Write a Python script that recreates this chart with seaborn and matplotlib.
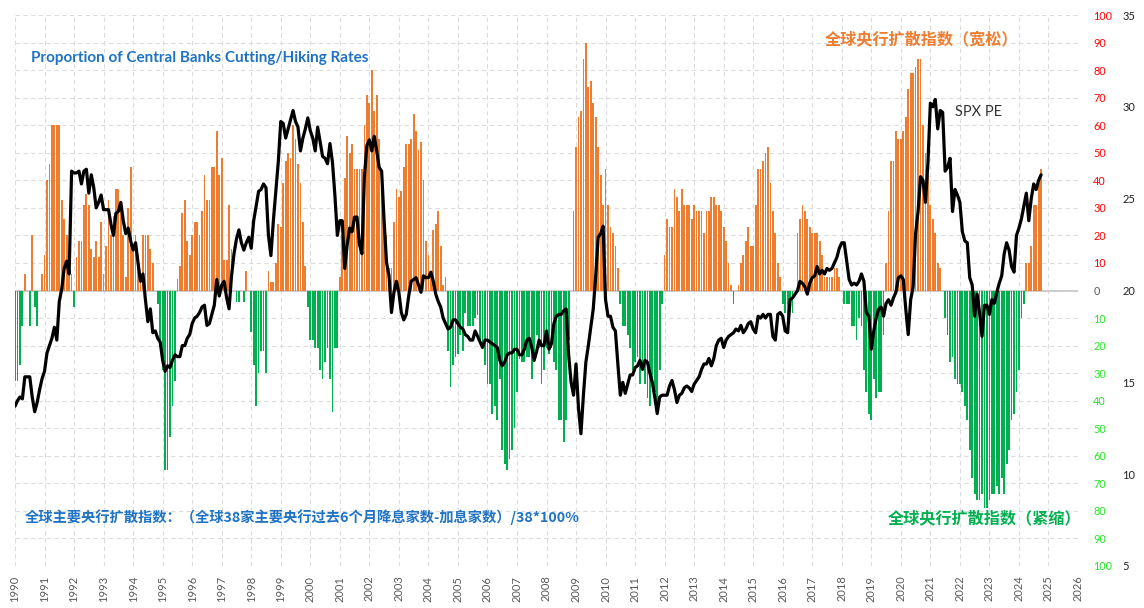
import numpy as np
import pandas as pd
import matplotlib
matplotlib.use("Agg")
import matplotlib.pyplot as plt
import seaborn as sns

# monthly diffusion index (cuts - hikes, % of 38 banks), Jan 1990 onwards
diff_1990s = [
    -33, -33, -27, -13, 6, 0, -13, 20, -6, -13, 0, 6,
    13, 40, 46, 60, 60, 60, 60, 33, 26, 20, 13, 6,
    -6, 12, 18, 18, 31, 35, 31, 15, 12, 18, 12, 25,
    6, 16, 33, 20, 27, 37, 37, 32, 20, 5, 30, 45,
    15, 20, 13, 6, 20, 20, 20, 15, 10, 0, -5, -18,
    -29, -65, -65, -53, -42, -33, 4, 9, 28, 33, 18, 13,
    20, 25, 25, 20, 29, 42, 33, 33, 45, 45, 58, 42,
    48, 11, 11, 31, 15, 0, -4, -4, 0, -4, 7, 0,
    -15, -27, -42, -30, -22, -22, -30, 7, 3, 3, 10, 24,
    23, 39, 47, 50, 48, 60, 55, 46, 39, 25, 9, -6,
]
diff_2000s = [
    -18, -18, -21, -21, -29, -32, -26, -21, -32, -44, -21, -21,
    5, 20, 41, 56, 50, 53, 44, 44, 44, 44, 60, 71,
    68, 80, 65, 71, 55, 40, 30, 20, 8, 8, 25, 37,
    34, 36, 45, 53, 53, 55, 64, 58, 51, 54, 40, 18,
    13, 7, 22, 24, 29, 16, 2, 5, -22, -35, -27, -24,
    -23, -16, -22, -8, -13, -13, -13, -10, -9, -19, -21, -27,
    -34, -34, -45, -42, -47, -32, -58, -63, -65, -61, -58, -50,
    -37, -25, -26, -26, -24, -24, -32, -26, -16, -21, -34, -29,
    -21, -23, -21, -26, -29, -47, -47, -55, -47, -18, 0, 29,
    52, 63, 65, 84, 90, 74, 76, 68, 63, 52, 42, 31,
]
diff_2010s = [
    44, 31, 23, 21, 16, 8, -5, -13, -13, -16, -21, -29,
    -26, -24, -34, -29, -34, -39, -42, -32, -37, -42, -29, -5,
    13, 26, 23, 23, 37, 34, 29, 37, 31, 31, 31, 26,
    31, 29, 29, 29, 21, 29, 29, 34, 34, 31, 31, 29,
    23, 18, 10, 2, -5, 0, 2, 10, 13, 18, 23, 16,
    16, 31, 44, 44, 47, 50, 52, 39, 29, 21, 10, 5,
    -5, -8, -10, -5, -8, 0, 21, 26, 31, 29, 26, 23,
    21, 21, 21, 18, 13, 5, 5, 5, 5, 8, 8, 5,
    0, -5, -5, -5, -13, -13, -18, -10, -13, -29, -37, -45,
    -47, -32, -39, -37, -37, -16, 10, 29, 47, 47, 58, 55,
]
diff_2020s = [
    55, 58, 63, 73, 79, 79, 81, 84, 84, 60, 50, 42,
    31, 26, 21, 10, 8, 0, -10, -16, -26, -24, -32, -34,
    -34, -37, -42, -47, -58, -68, -74, -76, -76, -74, -79, -79,
    -76, -74, -74, -71, -74, -68, -74, -63, -58, -47, -45, -37,
    -29, -10, -5, 10, 10, 16, 31, 31, 39, 44,
]

# S&P 500 PE, same months
pe_1990s = [
    13.7, 14.0, 14.2, 14.1, 15.3, 15.3, 15.3, 14.2, 13.4, 13.9, 14.6, 15.2,
    15.6, 16.6, 17.0, 17.4, 18.0, 17.3, 19.4, 20.1, 21.2, 21.6, 20.9, 26.5,
    26.4, 26.4, 26.5, 25.8, 26.5, 26.6, 25.3, 26.3, 25.6, 24.5, 24.8, 25.2,
    24.4, 24.4, 24.4, 23.6, 23.0, 24.2, 24.3, 24.8, 23.8, 23.1, 23.4, 22.7,
    22.2, 22.6, 21.5, 20.5, 20.9, 19.5, 18.3, 19.0, 17.7, 17.8, 17.4, 17.2,
    16.2, 15.6, 15.9, 15.8, 16.2, 16.5, 16.4, 16.4, 17.0, 17.0, 17.4, 17.6,
    18.2, 18.5, 18.6, 18.8, 19.1, 19.2, 18.1, 18.2, 18.7, 19.2, 20.6, 19.7,
    20.3, 20.5, 19.6, 19.0, 20.8, 22.0, 22.8, 23.3, 22.6, 22.2, 22.6, 22.9,
    22.3, 23.8, 24.6, 25.4, 25.5, 25.8, 25.6, 23.0, 21.9, 23.8, 25.4, 27.0,
    29.2, 29.1, 28.3, 28.8, 29.3, 29.8, 29.2, 28.9, 27.6, 28.3, 28.8, 29.4,
]
pe_2000s = [
    28.7, 28.3, 27.6, 28.9, 28.1, 27.3, 27.2, 26.9, 28.0, 27.0, 25.2, 23.0,
    23.8, 23.8, 21.2, 22.5, 23.4, 23.2, 24.0, 24.0, 22.5, 22.0, 26.2, 27.9,
    28.2, 27.6, 28.4, 27.6, 26.7, 26.5, 23.8, 21.5, 20.8, 18.8, 19.9, 20.5,
    19.9, 18.8, 18.4, 18.7, 19.7, 20.5, 20.6, 20.7, 20.3, 19.9, 20.8, 20.7,
    20.7, 21.0, 20.5, 19.8, 19.4, 19.1, 18.5, 18.2, 17.9, 18.0, 18.4, 18.4,
    18.2, 18.0, 17.9, 17.6, 17.5, 17.3, 17.3, 17.8, 17.5, 17.2, 16.9, 17.3,
    17.3, 17.2, 17.1, 17.0, 16.9, 16.2, 15.9, 16.1, 16.5, 16.6, 16.6, 16.8,
    16.8, 16.5, 16.5, 16.8, 17.3, 17.4, 16.9, 16.2, 16.7, 17.3, 17.0, 17.0,
    17.8, 16.8, 17.1, 18.2, 18.6, 18.7, 18.7, 18.9, 19.0, 16.5, 15.0, 14.3,
    16.0, 13.6, 12.2, 14.3, 16.1, 17.0, 18.0, 19.0, 20.8, 22.9, 23.1, 23.5,
]
pe_2010s = [
    19.5, 18.6, 18.6, 18.0, 17.8, 16.0, 14.3, 15.0, 14.4, 14.9, 15.4, 15.4,
    15.8, 15.9, 16.2, 15.7, 16.2, 16.1, 15.5, 15.0, 14.2, 13.3, 14.2, 14.3,
    14.3, 14.3, 14.8, 15.1, 14.6, 13.9, 14.3, 14.4, 14.7, 14.8, 14.7, 14.5,
    14.9, 15.1, 15.3, 15.7, 16.0, 16.0, 16.3, 15.9, 16.3, 17.0, 17.3, 17.4,
    16.9, 17.3, 17.5, 17.6, 17.7, 17.9, 17.8, 18.1, 17.7, 17.9, 18.2, 18.3,
    17.9, 17.7, 18.6, 18.5, 18.7, 18.5, 18.7, 18.7, 17.5, 17.3, 18.7, 18.8,
    18.6, 17.8, 17.7, 19.5, 19.6, 19.8, 20.0, 20.5, 20.4, 20.2, 19.8, 20.4,
    20.7, 20.8, 21.3, 20.9, 21.1, 20.9, 21.2, 21.1, 21.2, 21.5, 21.8, 22.3,
    22.6, 22.6, 21.6, 20.6, 20.3, 20.4, 20.3, 20.5, 20.9, 20.5, 18.8, 18.6,
    16.8, 17.8, 18.5, 19.0, 19.1, 18.6, 19.3, 19.5, 19.2, 19.6, 19.9, 20.7,
]
pe_2020s = [
    20.8, 20.6, 19.0, 17.6, 19.5, 20.2, 23.1, 24.3, 26.2, 26.0, 24.8, 26.9,
    30.2, 30.0, 30.4, 28.8, 29.8, 29.7, 26.5, 26.7, 27.2, 24.3, 25.5, 25.2,
    24.8, 23.2, 22.7, 22.6, 20.7, 20.3, 18.6, 19.8, 18.8, 17.5, 19.2, 19.2,
    18.7, 19.5, 19.3, 19.9, 20.4, 20.8, 22.0, 22.6, 22.2, 21.3, 21.0, 23.0,
    23.4, 23.9, 24.6, 25.3, 23.8, 25.0, 25.8, 25.5, 26.0, 26.3,
]

year_ticks = list(range(1990, 2027))
idx_ticks = list(range(-100, 101, 10))
pe_ticks = [5, 10, 15, 20, 25, 30, 35]

diff = diff_1990s + diff_2000s + diff_2010s + diff_2020s
pe = pe_1990s + pe_2000s + pe_2010s + pe_2020s
months = np.arange(len(diff))
df = pd.DataFrame({
    "date": np.round(1990 + months / 12, 4),
    "index": diff,
    "pe": pe,
})
df["side"] = np.where(df["index"] >= 0, "loose", "tight")

sns.set_theme(style="white")
plt.rcParams["font.family"] = ["Lato", "Noto Sans CJK SC", "DejaVu Sans"]

W, H = 1144, 608
fig = plt.figure(figsize=(W / 100, H / 100), dpi=100)
ax = fig.add_axes([15 / W, 42 / H, (1078 - 15) / W, (566 - 15) / H])

grid_kw = dict(color="#dcdcdc", linestyle=(0, (4, 3)), linewidth=0.8)
for y in idx_ticks:
    if y != 0:
        ax.axhline(y, zorder=0, **grid_kw)
for x in year_ticks:
    ax.axvline(x, zorder=0, **grid_kw)
ax.axhline(0, color="#c8c8c8", linewidth=1.3, zorder=1)

sns.barplot(data=df, x="date", y="index", hue="side", native_scale=True,
            dodge=False, width=0.72, saturation=1, errorbar=None, legend=False,
            palette={"loose": "#ED7D31", "tight": "#00B050"}, ax=ax, zorder=2,
            linewidth=0)

ax2 = ax.twinx()
sns.lineplot(data=df, x="date", y="pe", color="black", linewidth=2.3, ax=ax2)

ax.set_xlim(1990, 2026)
ax.set_ylim(-100, 100)
ax.set_xticks(year_ticks)
ax.set_xticklabels([str(y) for y in year_ticks], rotation=90, fontsize=8, color="#595959")
ax.tick_params(axis="x", length=0, pad=7)
ax.yaxis.tick_right()
ax.set_yticks(idx_ticks)
ax.set_yticklabels([str(abs(v)) for v in idx_ticks], fontsize=7.8)
for lab, v in zip(ax.get_yticklabels(), idx_ticks):
    lab.set_color("#FF0000" if v > 0 else ("#22E622" if v < 0 else "#595959"))
ax.tick_params(axis="y", length=0, pad=11, left=False, labelleft=False,
               right=False, labelright=True)
ax.set_xlabel("")
ax.set_ylabel("")
for s in ax.spines.values():
    s.set_visible(False)

ax2.set_ylim(5, 35)
ax2.set_xlim(1990, 2026)
ax2.set_yticks(pe_ticks)
ax2.set_yticklabels([str(v) for v in pe_ticks], fontsize=8, color="#222222")
ax2.tick_params(axis="y", length=0, pad=32)
ax2.set_xlabel("")
ax2.set_ylabel("")
for s in ax2.spines.values():
    s.set_visible(False)

fig.text(31 / W, 1 - 58 / H, "Proportion of Central Banks Cutting/Hiking Rates",
         color="#1F73C4", fontsize=11, fontweight="bold", va="center", ha="left")
fig.text(825 / W, 1 - 40 / H, "全球央行扩散指数（宽松）", color="#ED7D31",
         fontsize=11.6, fontweight="bold", va="center", ha="left",
         family=["Noto Sans CJK SC", "DejaVu Sans"])
fig.text(955 / W, 1 - 112 / H, "SPX PE", color="#333333", fontsize=10.5,
         va="center", ha="left")
fig.text(25 / W, 1 - 517 / H,
         "全球主要央行扩散指数：（全球38家主要央行过去6个月降息家数-加息家数）/38*100%",
         color="#1F73C4", fontsize=10.3, fontweight="bold", va="center", ha="left",
         family=["Noto Sans CJK SC", "DejaVu Sans"])
fig.text(888 / W, 1 - 518 / H, "全球央行扩散指数（紧缩）", color="#00B050",
         fontsize=11.6, fontweight="bold", va="center", ha="left",
         family=["Noto Sans CJK SC", "DejaVu Sans"])

fig.savefig("out.png", dpi=100)
